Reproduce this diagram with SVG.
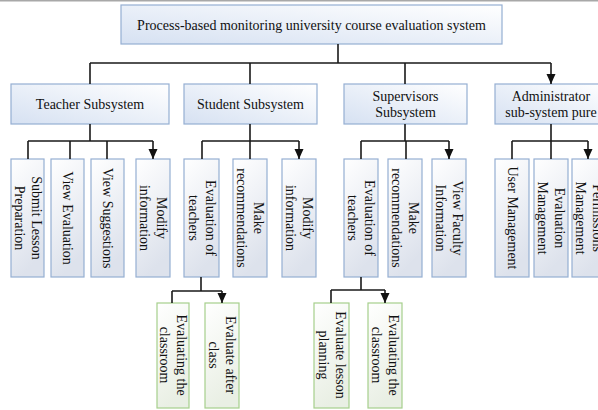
<svg xmlns="http://www.w3.org/2000/svg" width="598" height="410" viewBox="0 0 598 410">
  <defs>
    <linearGradient id="gBlueH" x1="0" y1="1" x2="1" y2="0">
      <stop offset="0" stop-color="#d6e1f2"/>
      <stop offset="1" stop-color="#ffffff"/>
    </linearGradient>
    <linearGradient id="gBlueV" x1="0" y1="0" x2="0.3" y2="1">
      <stop offset="0" stop-color="#ffffff"/>
      <stop offset="1" stop-color="#dde2ec"/>
    </linearGradient>
    <linearGradient id="gGreen" x1="0" y1="0" x2="0.3" y2="1">
      <stop offset="0" stop-color="#ffffff"/>
      <stop offset="1" stop-color="#e9efe4"/>
    </linearGradient>
    <marker id="arrow" markerUnits="userSpaceOnUse" markerWidth="10" markerHeight="10" refX="10" refY="4.5" orient="auto">
      <path d="M0,0 L10,4.5 L0,9 Z" fill="#111"/>
    </marker>
  </defs>
  <style>
    .hbox { fill: url(#gBlueH); stroke: #95afd2; stroke-width: 1.2; }
    .vbox { fill: url(#gBlueV); stroke: #95afd2; stroke-width: 1.2; }
    .gbox { fill: url(#gGreen); stroke: #a6cf8c; stroke-width: 1.2; }
    text { font-family: "Liberation Serif", "Times New Roman", serif; font-size: 14px; fill: #111; text-anchor: middle; dominant-baseline: central; }
    .conn path { fill: none; stroke: #1a1a1a; stroke-width: 1.6; }
  </style>

  <rect x="0" y="0" width="598" height="1.5" fill="#a8a8a8"/>

  <!-- root -->
  <g id="root">
    <rect class="hbox" x="121" y="5" width="381" height="39"/>
    <text x="311.5" y="25">Process-based monitoring university course evaluation system</text>
  </g>

  <!-- subsystems -->
  <g id="teacher">
    <rect class="hbox" x="11" y="84" width="158" height="40"/>
    <text x="90" y="104">Teacher Subsystem</text>
  </g>
  <g id="student">
    <rect class="hbox" x="184" y="84" width="133" height="40"/>
    <text x="250.5" y="104">Student Subsystem</text>
  </g>
  <g id="supervisors">
    <rect class="hbox" x="344" y="84" width="123" height="40"/>
    <text x="405.5" y="96">Supervisors</text>
    <text x="405.5" y="112">Subsystem</text>
  </g>
  <g id="administrator">
    <rect class="hbox" x="495" y="84" width="113" height="40"/>
    <text x="551" y="96">Administrator</text>
    <text x="551" y="112">sub-system pure</text>
  </g>

  <!-- teacher leaves -->
  <g id="t-submit">
    <rect class="vbox" x="11" y="159" width="33" height="118"/>
    <g transform="translate(27.5,218) rotate(90)">
      <text x="0" y="-8.5">Submit Lesson</text>
      <text x="0" y="8.5">Preparation</text>
    </g>
  </g>
  <g id="t-view-eval">
    <rect class="vbox" x="51" y="159" width="33" height="118"/>
    <text transform="translate(67.5,218) rotate(90)" x="0" y="0">View Evaluation</text>
  </g>
  <g id="t-view-sugg">
    <rect class="vbox" x="91" y="159" width="33" height="118"/>
    <text transform="translate(107.5,218) rotate(90)" x="0" y="0">View Suggestions</text>
  </g>
  <g id="t-modify">
    <rect class="vbox" x="136" y="159" width="34" height="118"/>
    <g transform="translate(153,218) rotate(90)">
      <text x="0" y="-8.5">Modify</text>
      <text x="0" y="8.5">information</text>
    </g>
  </g>

  <!-- student leaves -->
  <g id="s-eval">
    <rect class="vbox" x="184" y="159" width="35" height="118"/>
    <g transform="translate(201.5,218) rotate(90)">
      <text x="0" y="-8.5">Evaluation of</text>
      <text x="0" y="8.5">teachers</text>
    </g>
  </g>
  <g id="s-recommend">
    <rect class="vbox" x="233" y="159" width="34" height="118"/>
    <g transform="translate(250,218) rotate(90)">
      <text x="0" y="-8.5">Make</text>
      <text x="0" y="8.5">recommendations</text>
    </g>
  </g>
  <g id="s-modify">
    <rect class="vbox" x="282" y="159" width="34" height="118"/>
    <g transform="translate(299,218) rotate(90)">
      <text x="0" y="-8.5">Modify</text>
      <text x="0" y="8.5">information</text>
    </g>
  </g>

  <!-- supervisor leaves -->
  <g id="v-eval">
    <rect class="vbox" x="344" y="159" width="34" height="118"/>
    <g transform="translate(361,218) rotate(90)">
      <text x="0" y="-8.5">Evaluation of</text>
      <text x="0" y="8.5">teachers</text>
    </g>
  </g>
  <g id="v-recommend">
    <rect class="vbox" x="388" y="159" width="34" height="118"/>
    <g transform="translate(405,218) rotate(90)">
      <text x="0" y="-8.5">Make</text>
      <text x="0" y="8.5">recommendations</text>
    </g>
  </g>
  <g id="v-faculty">
    <rect class="vbox" x="432" y="159" width="34" height="118"/>
    <g transform="translate(449,218) rotate(90)">
      <text x="0" y="-8.5">View Faculty</text>
      <text x="0" y="8.5">Information</text>
    </g>
  </g>

  <!-- administrator leaves -->
  <g id="a-user">
    <rect class="vbox" x="495" y="159" width="34" height="118"/>
    <text transform="translate(512,218) rotate(90)" x="0" y="0">User Management</text>
  </g>
  <g id="a-eval">
    <rect class="vbox" x="534" y="159" width="34" height="118"/>
    <g transform="translate(551,218) rotate(90)">
      <text x="0" y="-8.5">Evaluation</text>
      <text x="0" y="8.5">Management</text>
    </g>
  </g>
  <g id="a-perm">
    <rect class="vbox" x="572" y="159" width="34" height="118"/>
    <g transform="translate(589,218) rotate(90)">
      <text x="0" y="-8.5">Permissions</text>
      <text x="0" y="8.5">Management</text>
    </g>
  </g>

  <!-- third level (student evaluation) -->
  <g id="s-classroom">
    <rect class="gbox" x="157" y="303" width="32" height="105"/>
    <g transform="translate(173,355) rotate(90)">
      <text x="0" y="-8.5">Evaluating the</text>
      <text x="0" y="8.5">classroom</text>
    </g>
  </g>
  <g id="s-after">
    <rect class="gbox" x="205" y="303" width="34" height="105"/>
    <g transform="translate(222,355) rotate(90)">
      <text x="0" y="-8.5">Evaluate after</text>
      <text x="0" y="8.5">class</text>
    </g>
  </g>

  <!-- third level (supervisor evaluation) -->
  <g id="v-lesson">
    <rect class="gbox" x="314" y="303" width="35" height="105"/>
    <g transform="translate(331.5,355) rotate(90)">
      <text x="0" y="-8.5">Evaluate lesson</text>
      <text x="0" y="8.5">planning</text>
    </g>
  </g>
  <g id="v-classroom">
    <rect class="gbox" x="368" y="303" width="34" height="105"/>
    <g transform="translate(385,355) rotate(90)">
      <text x="0" y="-8.5">Evaluating the</text>
      <text x="0" y="8.5">classroom</text>
    </g>
  </g>

  <!-- connectors -->
  <g class="conn" id="connectors">
    <path d="M338,44 V63 M90,63 H551 M90,63 V84 M250,63 V84 M405,63 V84"/>
    <path d="M551,63 V84" marker-end="url(#arrow)"/>

    <path d="M90,124 V141 M28,141 H153 M28,141 V159 M70,141 V159 M107,141 V159"/>
    <path d="M153,141 V159" marker-end="url(#arrow)"/>

    <path d="M250,124 V141 M202,141 H299 M202,141 V159 M250,141 V159"/>
    <path d="M299,141 V159" marker-end="url(#arrow)"/>

    <path d="M405,124 V141 M361,141 H449 M361,141 V159 M406,141 V159"/>
    <path d="M449,141 V159" marker-end="url(#arrow)"/>

    <path d="M551,124 V141 M512,141 H588 M512,141 V159 M551,141 V159"/>
    <path d="M588,141 V159" marker-end="url(#arrow)"/>

    <path d="M201,277 V291 M172,291 H222 M172,291 V303"/>
    <path d="M222,291 V303" marker-end="url(#arrow)"/>

    <path d="M361,277 V290 M331,290 H385 M331,290 V303"/>
    <path d="M385,290 V303" marker-end="url(#arrow)"/>
  </g>
</svg>
